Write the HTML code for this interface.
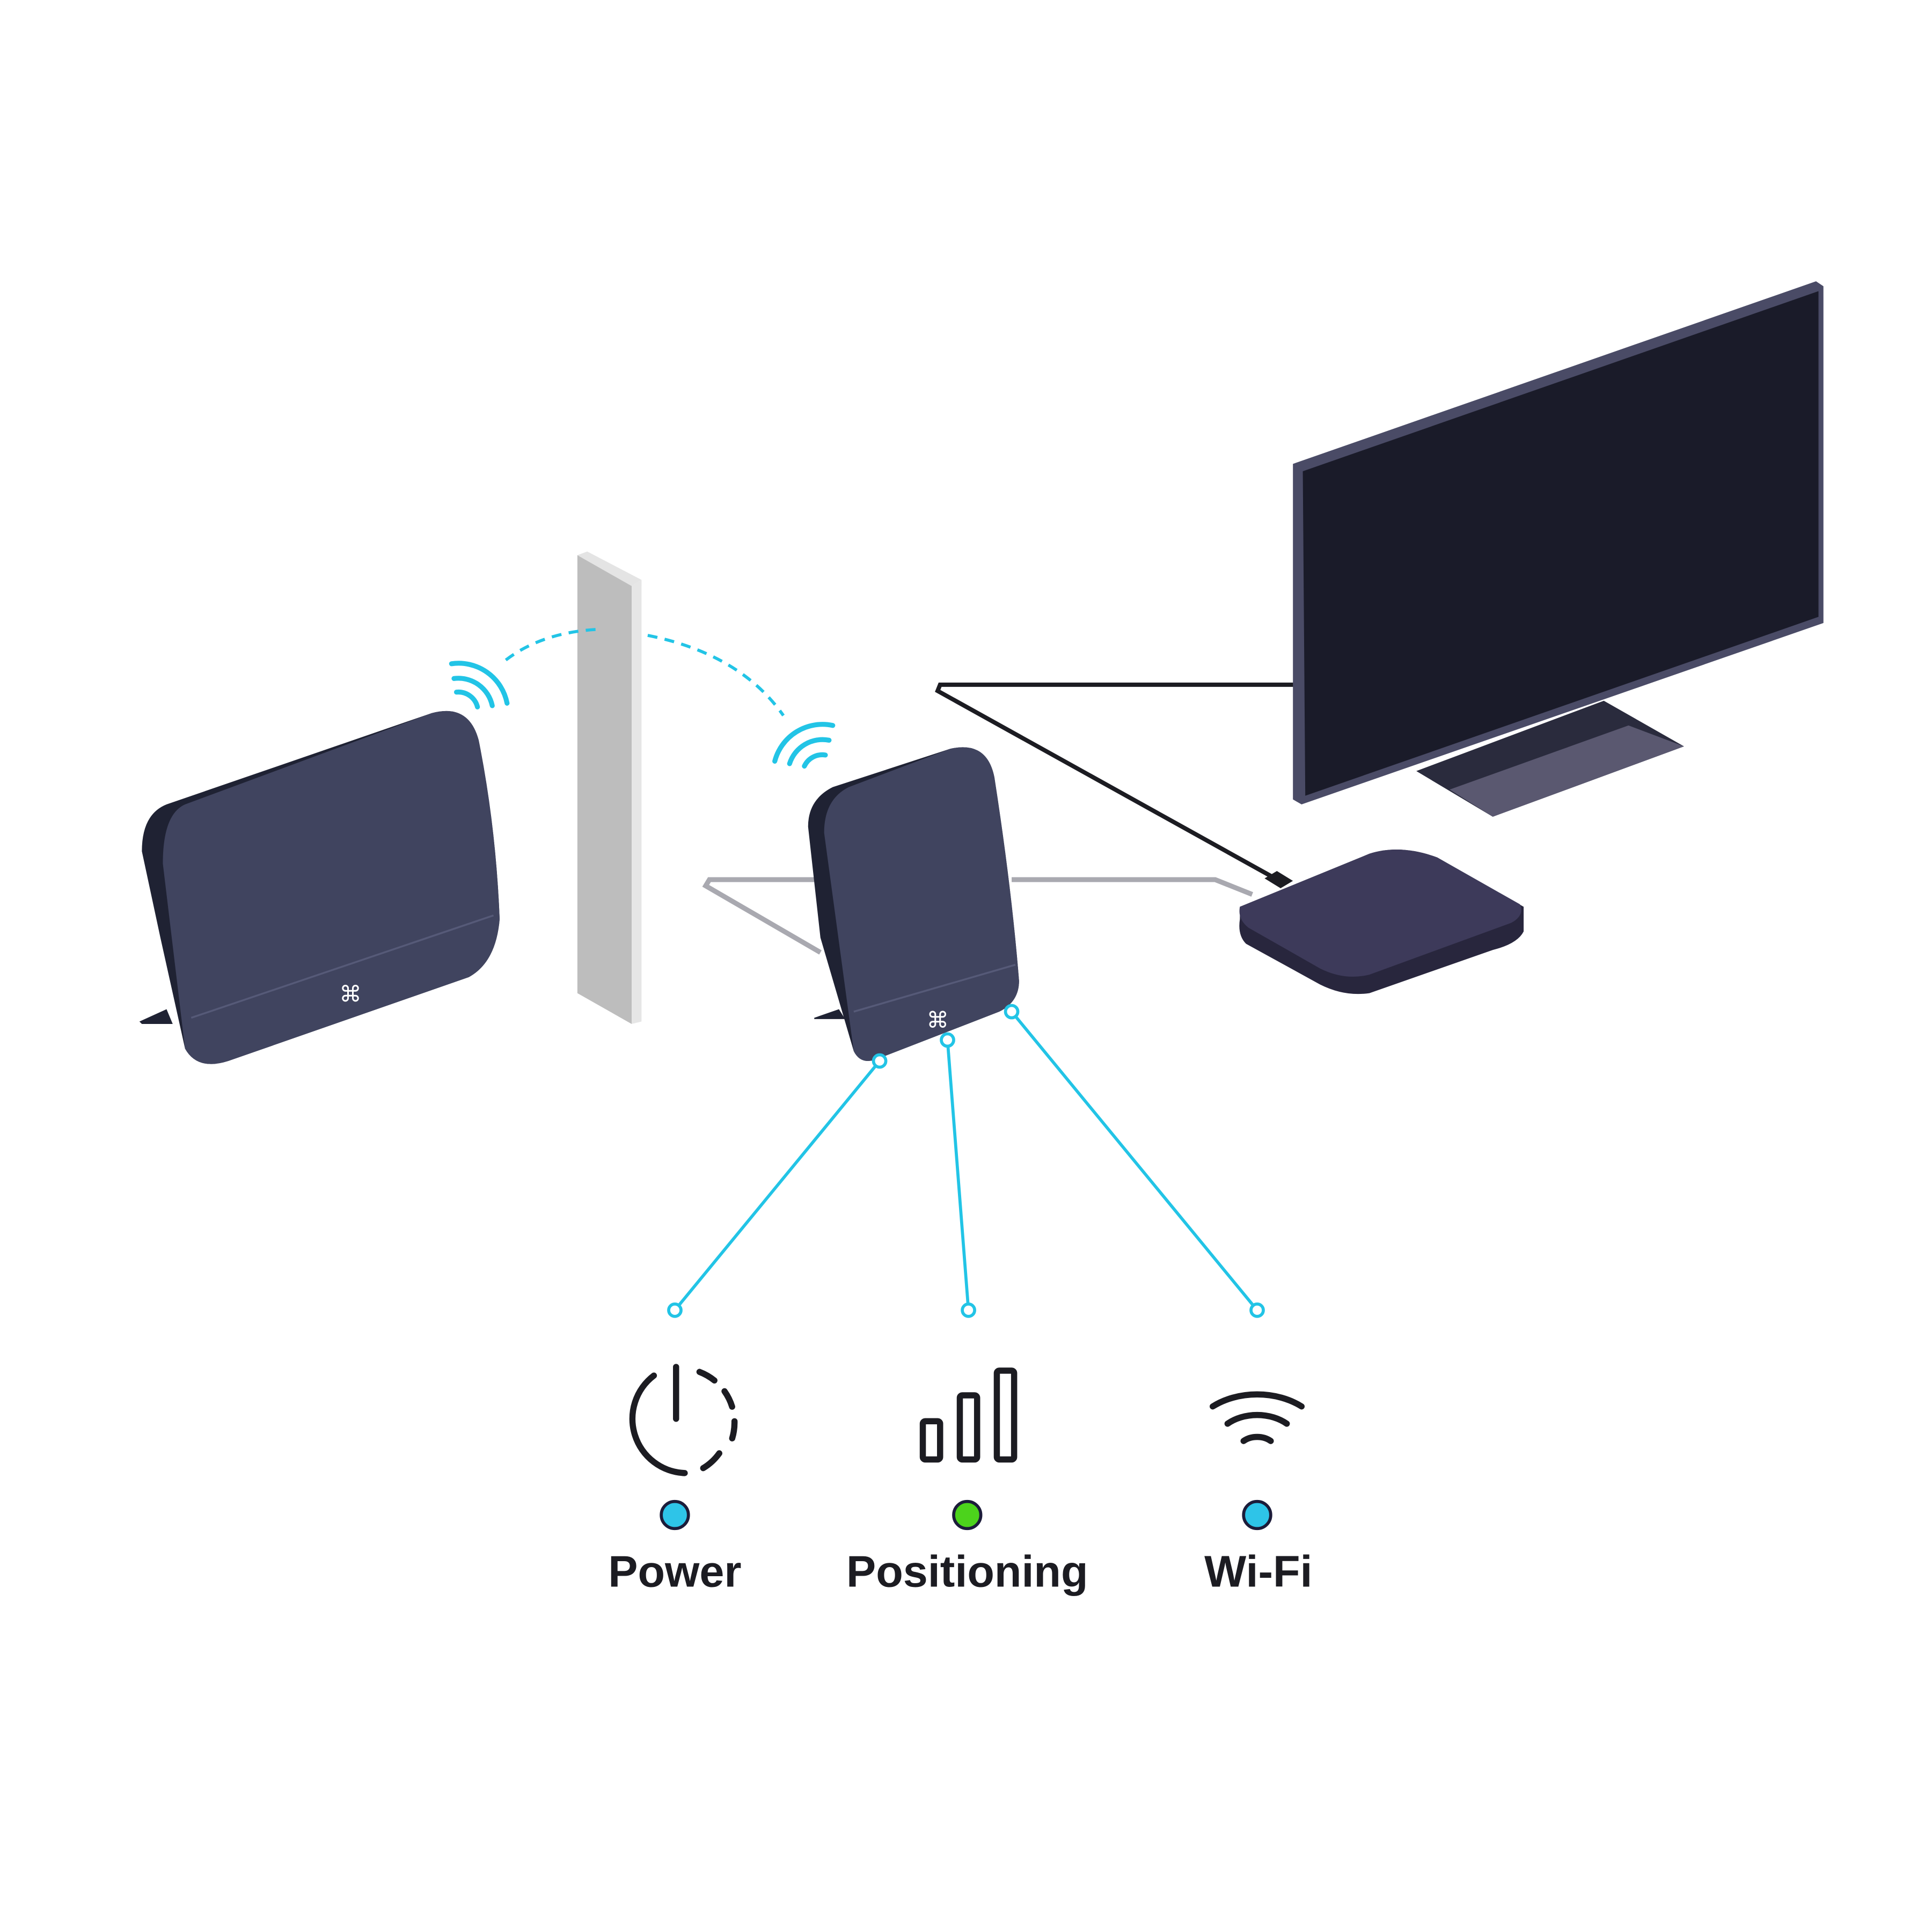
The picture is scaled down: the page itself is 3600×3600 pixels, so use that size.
<!DOCTYPE html>
<html><head><style>html,body{margin:0;padding:0;background:#fff}svg{display:block}</style></head>
<body>
<svg width="3600" height="3600" viewBox="0 0 1566 1566" xmlns="http://www.w3.org/2000/svg">
<rect width="1566" height="1566" fill="#fff"/>
<polyline points="665,772 572,718 575,713 660,713" fill="none" stroke="#a9a9b0" stroke-width="4"/>
<polyline points="820,713 985,713 1015,725" fill="none" stroke="#a9a9b0" stroke-width="4"/>
<polyline points="1050,555 762,555 760,560 1030,710" fill="none" stroke="#1c1c22" stroke-width="3.5"/>
<polygon points="468,450 476,447 520,470 512,475" fill="#e4e4e4"/>
<polygon points="468,450 512,475 512,830 468,805" fill="#bdbdbd"/>
<polygon points="512,475 520,470 520,828 512,830" fill="#e6e6e6"/>
<path d="M410,535 Q440,512 487,510" fill="none" stroke="#22c4e6" stroke-width="2.5" stroke-dasharray="8,6"/>
<path d="M525,515 Q600,530 635,580" fill="none" stroke="#22c4e6" stroke-width="2.5" stroke-dasharray="8,6"/>
<g fill="none" stroke="#22c4e6" stroke-width="4" stroke-linecap="round">
<path d="M366,538 A40,40 0 0 1 411,570"/>
<path d="M368,550 A28,28 0 0 1 399,572"/>
<path d="M370,561 A16,16 0 0 1 387,573"/>
<path d="M628,617 A40,40 0 0 1 675,588"/>
<path d="M640,619 A28,28 0 0 1 672,600"/>
<path d="M652,621 A16,16 0 0 1 669,612"/>
</g>
<polygon points="113,828 135,818 140,830 115,830" fill="#1f2233"/>
<path d="M115,690 Q115,660 135,652 L350,578 Q380,570 388,600 Q402,670 405,745 Q402,780 380,792 L185,860 Q160,868 150,850 L130,760 Z" fill="#1f2233"/>
<path d="M132,700 Q132,660 150,652 L350,578 Q380,570 388,600 Q402,670 405,745 Q402,780 380,792 L185,860 Q160,868 150,850 Z" fill="#40445f"/>
<path d="M155,825 L400,742" stroke="#565a78" stroke-width="1.5"/>
<text x="284" y="812" font-family="Liberation Sans,sans-serif" font-size="18" fill="#fff" text-anchor="middle">⌘</text>
<polygon points="660,825 680,818 685,826 660,826" fill="#1f2233"/>
<path d="M655,670 Q655,648 675,638 L770,607 Q800,600 806,630 Q820,720 826,795 Q826,812 810,820 L712,858 Q698,864 692,852 L665,760 Z" fill="#1f2233"/>
<path d="M668,675 Q668,648 688,638 L770,607 Q800,600 806,630 Q820,720 826,795 Q826,812 810,820 L712,858 Q698,864 692,852 Z" fill="#40445f"/>
<path d="M692,820 L823,782" stroke="#565a78" stroke-width="1.5"/>
<text x="760" y="833" font-family="Liberation Sans,sans-serif" font-size="18" fill="#fff" text-anchor="middle">⌘</text>
<polygon points="1148,625 1300,568 1365,605 1210,662" fill="#2a2b3d"/>
<polygon points="1175,640 1320,588 1365,605 1210,662" fill="#5a5870"/>
<polygon points="1048,376 1472,228 1478,232 1478,505 1055,652 1048,648" fill="#4a4b66"/>
<polygon points="1056,382 1474,236 1474,500 1058,645" fill="#1a1b29"/>
<path d="M1005,735 L1110,692 Q1135,684 1165,695 L1235,735 L1235,755 Q1230,765 1210,770 L1110,805 Q1090,808 1070,798 L1010,765 Q1003,758 1005,745 Z" fill="#28263d"/>
<path d="M1005,735 L1110,692 Q1135,684 1165,695 L1232,733 Q1236,742 1225,748 L1110,790 Q1090,795 1070,785 L1012,752 Q1003,745 1005,735 Z" fill="#3d3a5a"/>
<polygon points="1025,712 1035,706 1048,714 1038,720" fill="#1c1c22"/>
<g stroke="#22c4e6" stroke-width="2.5" fill="none">
<line x1="713" y1="860" x2="547" y2="1062"/>
<line x1="768" y1="843" x2="785" y2="1062"/>
<line x1="820" y1="820" x2="1019" y2="1062"/>
</g>
<g stroke="#22c4e6" stroke-width="2.5" fill="#fff">
<circle cx="713" cy="860" r="5"/><circle cx="768" cy="843" r="5"/><circle cx="820" cy="820" r="5"/>
<circle cx="547" cy="1062" r="5"/><circle cx="785" cy="1062" r="5"/><circle cx="1019" cy="1062" r="5"/>
</g>
<g fill="none" stroke="#1c1c22" stroke-width="5" stroke-linecap="round">
<path d="M530,1115 A44,44 0 0 0 555,1194"/>
<path d="M567,1112 A44,44 0 0 1 592,1170" stroke-dasharray="14,12"/>
<path d="M583,1178 A44,44 0 0 1 570,1190"/>
<line x1="548" y1="1108" x2="548" y2="1150"/>
<rect x="748" y="1152" width="14" height="31" rx="2"/>
<rect x="778" y="1131" width="14" height="52" rx="2"/>
<rect x="808" y="1111" width="14" height="72" rx="2"/>
<path d="M983,1140 A55,40 0 0 1 1055,1140"/>
<path d="M995,1154 A35,26 0 0 1 1043,1154"/>
<path d="M1008,1168 A16,12 0 0 1 1030,1168"/>
</g>
<circle cx="547" cy="1228" r="11" fill="#2ec4e8" stroke="#1c1c3a" stroke-width="2.5"/>
<circle cx="784" cy="1228" r="11" fill="#4cd31c" stroke="#1c1c3a" stroke-width="2.5"/>
<circle cx="1019" cy="1228" r="11" fill="#2ec4e8" stroke="#1c1c3a" stroke-width="2.5"/>
<g font-family="Liberation Sans,sans-serif" font-weight="bold" font-size="36" fill="#1c1c22" text-anchor="middle">
<text x="547" y="1286">Power</text>
<text x="784" y="1286">Positioning</text>
<text x="1020" y="1286">Wi-Fi</text>
</g>
</svg>
</body></html>
